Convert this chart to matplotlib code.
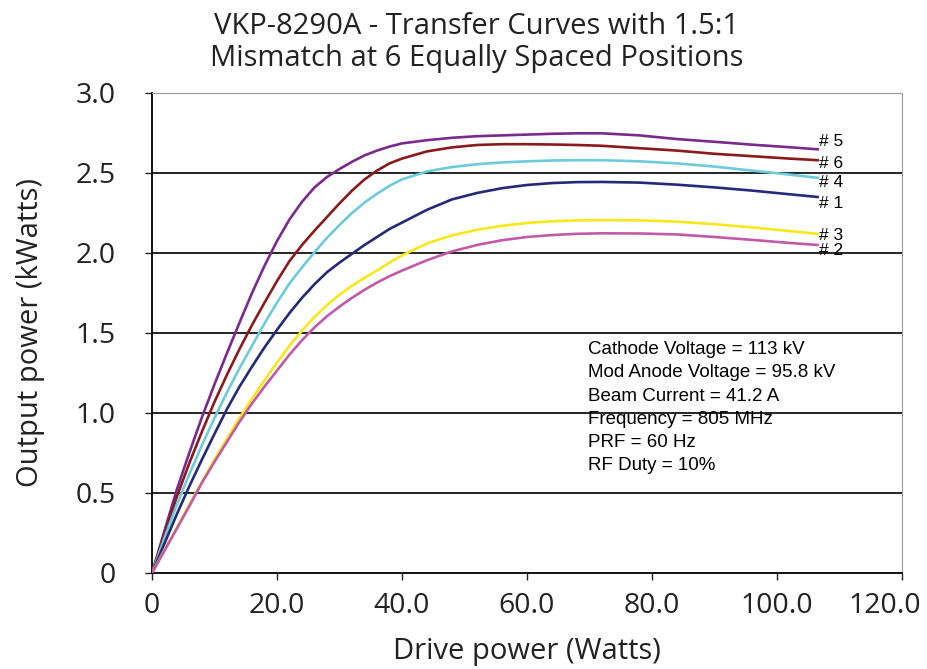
import matplotlib
matplotlib.use("Agg")
import matplotlib.pyplot as plt
from matplotlib.transforms import ScaledTranslation

# drive power (W) sample points
drive = [0, 2, 4, 6, 8, 10, 12, 14, 16, 18, 20, 22, 24, 26, 28, 30, 32, 34, 36, 38, 40,
         44, 48, 52, 56, 60, 64, 68, 72, 78, 84, 90, 96, 102, 106.5]

# output power (kW) per mismatch position
pos1 = [0, 0.185, 0.37, 0.545, 0.71, 0.87, 1.025, 1.165, 1.29, 1.41, 1.52, 1.625, 1.72, 1.805, 1.88, 1.94, 1.995, 2.05, 2.10, 2.15, 2.19,
        2.27, 2.335, 2.375, 2.405, 2.425, 2.437, 2.443, 2.444, 2.44, 2.427, 2.41, 2.39, 2.367, 2.35]
pos2 = [0, 0.14, 0.28, 0.42, 0.565, 0.695, 0.82, 0.945, 1.06, 1.165, 1.265, 1.365, 1.455, 1.535, 1.605, 1.665, 1.72, 1.77, 1.815, 1.855, 1.89,
        1.955, 2.01, 2.05, 2.08, 2.10, 2.112, 2.12, 2.123, 2.122, 2.116, 2.10, 2.082, 2.063, 2.05]
pos3 = [0, 0.145, 0.285, 0.43, 0.57, 0.71, 0.84, 0.97, 1.09, 1.205, 1.315, 1.42, 1.515, 1.60, 1.675, 1.74, 1.795, 1.845, 1.89, 1.94, 1.985,
        2.06, 2.11, 2.145, 2.17, 2.188, 2.198, 2.204, 2.206, 2.204, 2.196, 2.18, 2.16, 2.137, 2.12]
pos4 = [0, 0.22, 0.43, 0.62, 0.80, 0.97, 1.13, 1.28, 1.42, 1.56, 1.69, 1.81, 1.91, 2.005, 2.095, 2.175, 2.25, 2.315, 2.37, 2.42, 2.46,
        2.51, 2.537, 2.555, 2.566, 2.573, 2.578, 2.58, 2.58, 2.573, 2.56, 2.54, 2.515, 2.49, 2.47]
pos5 = [0, 0.265, 0.525, 0.755, 0.975, 1.18, 1.375, 1.565, 1.75, 1.92, 2.075, 2.21, 2.32, 2.41, 2.475, 2.525, 2.57, 2.61, 2.64, 2.665, 2.685,
        2.705, 2.72, 2.73, 2.735, 2.74, 2.745, 2.748, 2.748, 2.735, 2.712, 2.695, 2.677, 2.661, 2.648]
pos6 = [0, 0.245, 0.48, 0.69, 0.885, 1.07, 1.24, 1.40, 1.55, 1.69, 1.825, 1.95, 2.05, 2.14, 2.225, 2.31, 2.39, 2.46, 2.515, 2.56, 2.59,
        2.635, 2.66, 2.675, 2.68, 2.68, 2.678, 2.675, 2.67, 2.655, 2.64, 2.62, 2.605, 2.59, 2.58]

series = [
    ("# 5", pos5, "#7a2a8c"),
    ("# 6", pos6, "#8a1a1c"),
    ("# 4", pos4, "#6ccbdc"),
    ("# 1", pos1, "#25297a"),
    ("# 3", pos3, "#f7e81a"),
    ("# 2", pos2, "#c15aa8"),
]
# tag offsets (kW) from each curve's end value
label_dy = {"# 5": 0.05, "# 6": -0.02, "# 4": -0.03, "# 1": -0.04, "# 3": -0.01, "# 2": -0.035}

notes = ["Cathode Voltage = 113 kV", "Mod Anode Voltage = 95.8 kV", "Beam Current = 41.2 A",
         "Frequency = 805 MHz", "PRF = 60 Hz", "RF Duty = 10%"]

xticks = [0, 20, 40, 60, 80, 100, 120]
yticks = [0, 0.5, 1.0, 1.5, 2.0, 2.5, 3.0]

UI = "Open Sans"

fig = plt.figure(figsize=(9.27, 6.69), dpi=100)
ax = fig.add_axes([0.164, 0.1435, 0.809, 0.7175])

for y in yticks[1:-1]:
    ax.axhline(y, color="black", lw=1.2, zorder=1)

for name, vals, col in series:
    ax.plot(drive, vals, color=col, lw=1.9, zorder=3, solid_joinstyle="round")
    ax.text(106.8, vals[-1] + label_dy[name], name, fontsize=12.5, family="Liberation Sans",
            va="center", ha="left", color="black")

for i, s in enumerate(notes):
    ax.text(69.7, 1.395 - i * 0.145, s, fontsize=13.5, family="Liberation Sans", va="center", ha="left")

ax.set_xlim(0, 120)
ax.set_ylim(0, 3.0)
ax.set_xticks(xticks)
ax.set_xticklabels(["0"] + [f"{v:.1f}" for v in xticks[1:]])
ax.set_yticks(yticks)
ax.set_yticklabels(["0"] + [f"{v:.1f}" for v in yticks[1:]])
ax.tick_params(labelsize=20.5, colors="#222222", length=5, width=1)
ax.tick_params(axis="y", pad=21)
ax.tick_params(axis="x", pad=9)
for lab in ax.get_xticklabels() + ax.get_yticklabels():
    lab.set_family(UI)

# last x label nudged left so it stays inside the figure
last = ax.get_xticklabels()[-1]
last.set_transform(last.get_transform() + ScaledTranslation(-0.17, 0, fig.dpi_scale_trans))

ax.spines["left"].set_color("black")
ax.spines["bottom"].set_color("black")
ax.spines["left"].set_linewidth(1.3)
ax.spines["bottom"].set_linewidth(1.3)
ax.spines["top"].set_color("#999999")
ax.spines["right"].set_color("#999999")

ax.set_xlabel("Drive power (Watts)", fontsize=21, family=UI, color="#222222", labelpad=12)
ax.set_ylabel("Output power (kWatts)", fontsize=21, family=UI, color="#222222", labelpad=22)

fig.text(0.514, 0.982, "VKP-8290A - Transfer Curves with 1.5:1\nMismatch at 6 Equally Spaced Positions",
         ha="center", va="top", fontsize=21, family=UI, color="#222222", linespacing=1.12)

fig.savefig("out.png", dpi=100)
